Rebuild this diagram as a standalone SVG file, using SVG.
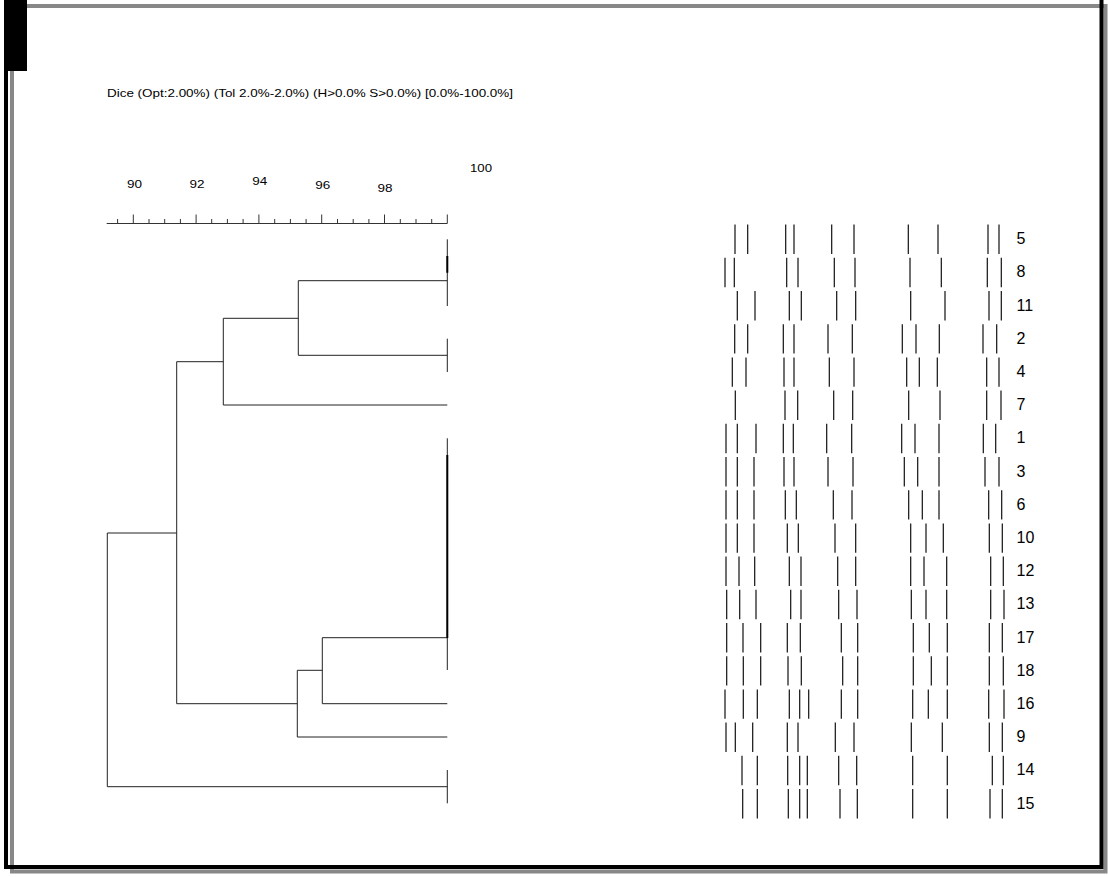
<svg xmlns="http://www.w3.org/2000/svg" width="1108" height="877" viewBox="0 0 1108 877">
<style>
.frame-g{fill:none;stroke:#888;stroke-width:4}
.frame-b{fill:none;stroke:#000;stroke-width:4}
.t{font-family:"Liberation Sans",Arial,sans-serif;fill:#000}
.title{font-size:11.5px}
.scale{font-size:11.5px}
.lbl{font-size:16px}
.axis{fill:none;stroke:#333;stroke-width:1}
.den{fill:none;stroke:#222;stroke-width:1}
.thick{fill:none;stroke:#000;stroke-width:2}
.band{fill:none;stroke:#111;stroke-width:1.2}
</style>
<rect width="1108" height="877" fill="#fff"/>
<g id="frame">
<rect class="frame-g" x="12" y="6" width="1093.5" height="865.5"/>
<path class="frame-b" d="M6 0V867H1101.5V0"/>
<rect x="5" y="0" width="22" height="71" fill="#000"/>
</g>
<text class="t title" x="107" y="97" textLength="406" lengthAdjust="spacingAndGlyphs">Dice (Opt:2.00%) (Tol 2.0%-2.0%) (H&gt;0.0% S&gt;0.0%) [0.0%-100.0%]</text>
<g id="scale">
<path class="axis" d="M106.7 223.5H447.3"/>
<path class="axis" d="M133.3 214.5V223.5M196.1 214.5V223.5M258.9 214.5V223.5M321.7 214.5V223.5M384.5 214.5V223.5M447.3 214.5V223.5"/>
<path class="axis" d="M117.6 219V223.5M149 219V223.5M164.7 219V223.5M180.4 219V223.5M211.7 219V223.5M227.4 219V223.5M243.1 219V223.5M274.7 219V223.5M290.4 219V223.5M306.1 219V223.5M337.5 219V223.5M353.2 219V223.5M368.9 219V223.5M400.3 219V223.5M416 219V223.5M431.7 219V223.5"/>
<text class="t scale" x="127" y="188.3" textLength="15" lengthAdjust="spacingAndGlyphs">90</text>
<text class="t scale" x="189.5" y="187.7" textLength="15" lengthAdjust="spacingAndGlyphs">92</text>
<text class="t scale" x="252.2" y="185" textLength="15" lengthAdjust="spacingAndGlyphs">94</text>
<text class="t scale" x="315.3" y="189" textLength="15" lengthAdjust="spacingAndGlyphs">96</text>
<text class="t scale" x="377.5" y="191.7" textLength="15" lengthAdjust="spacingAndGlyphs">98</text>
<text class="t scale" x="470" y="171.7" textLength="22" lengthAdjust="spacingAndGlyphs">100</text>
</g>
<g id="connectors">
<path class="den" d="M447.3 239.3V306M298.3 280.7H447.3M298.3 280.7V355.3H447.3M447.3 338.7V372M223.3 318.3H298.3M223.3 318.3V405H447.3M176.7 361.7H223.3M176.7 361.7V703.7M107.3 533H176.7M107.3 533V786.7H447.3M447.3 770V803.3M447.3 438.3V670M322.3 637.7H447.3M322.3 637.7V703.7H447.3M297.3 670.3H322.3M297.3 670.3V737H447.3M176.7 703.7H297.3"/>
<path class="thick" d="M447.3 256V272.7M447.3 455V638"/>
</g>
<g id="row-5"><path class="band" d="M735 224.6v29.4M747.7 224.6v29.4M785.7 224.6v29.4M794 224.6v29.4M831.7 224.6v29.4M854 224.6v29.4M908.3 224.6v29.4M938 224.6v29.4M988 224.6v29.4M999 224.6v29.4"/><text class="t lbl" x="1016.5" y="244.1">5</text></g>
<g id="row-8"><path class="band" d="M725 257.8v29.4M734.3 257.8v29.4M786.7 257.8v29.4M798 257.8v29.4M834.3 257.8v29.4M855 257.8v29.4M910 257.8v29.4M941.3 257.8v29.4M987.3 257.8v29.4M1001.3 257.8v29.4"/><text class="t lbl" x="1016.5" y="277.3">8</text></g>
<g id="row-11"><path class="band" d="M737.3 291v29.4M755 291v29.4M789.3 291v29.4M801.3 291v29.4M836.7 291v29.4M855.7 291v29.4M910.7 291v29.4M945 291v29.4M989 291v29.4M1001.3 291v29.4"/><text class="t lbl" x="1016.5" y="310.5">11</text></g>
<g id="row-2"><path class="band" d="M734.7 324.2v29.4M747.7 324.2v29.4M783.3 324.2v29.4M794 324.2v29.4M828 324.2v29.4M852.3 324.2v29.4M902.3 324.2v29.4M916 324.2v29.4M939.3 324.2v29.4M983 324.2v29.4M996.7 324.2v29.4"/><text class="t lbl" x="1016.5" y="343.7">2</text></g>
<g id="row-4"><path class="band" d="M732.3 357.4v29.4M746 357.4v29.4M784 357.4v29.4M794 357.4v29.4M829.3 357.4v29.4M854 357.4v29.4M906.7 357.4v29.4M919.3 357.4v29.4M937.3 357.4v29.4M986.7 357.4v29.4M999 357.4v29.4"/><text class="t lbl" x="1016.5" y="376.9">4</text></g>
<g id="row-7"><path class="band" d="M735.3 390.6v29.4M785 390.6v29.4M797.7 390.6v29.4M833.7 390.6v29.4M852.7 390.6v29.4M908.7 390.6v29.4M940 390.6v29.4M986.7 390.6v29.4M1001 390.6v29.4"/><text class="t lbl" x="1016.5" y="410.1">7</text></g>
<g id="row-1"><path class="band" d="M726 423.8v29.4M737.3 423.8v29.4M756 423.8v29.4M783.3 423.8v29.4M793.3 423.8v29.4M826.7 423.8v29.4M851.7 423.8v29.4M901.7 423.8v29.4M915 423.8v29.4M939 423.8v29.4M983.3 423.8v29.4M995.7 423.8v29.4"/><text class="t lbl" x="1016.5" y="443.3">1</text></g>
<g id="row-3"><path class="band" d="M726 457v29.4M737.3 457v29.4M754 457v29.4M784 457v29.4M794 457v29.4M828 457v29.4M853 457v29.4M904.3 457v29.4M917.7 457v29.4M939 457v29.4M985 457v29.4M999 457v29.4"/><text class="t lbl" x="1016.5" y="476.5">3</text></g>
<g id="row-6"><path class="band" d="M726 490.2v29.4M737.3 490.2v29.4M754 490.2v29.4M785.3 490.2v29.4M796.3 490.2v29.4M833.3 490.2v29.4M852 490.2v29.4M908.7 490.2v29.4M922.3 490.2v29.4M939 490.2v29.4M988.7 490.2v29.4M1001.7 490.2v29.4"/><text class="t lbl" x="1016.5" y="509.7">6</text></g>
<g id="row-10"><path class="band" d="M726 523.4v29.4M737.3 523.4v29.4M754 523.4v29.4M787.3 523.4v29.4M798.3 523.4v29.4M835 523.4v29.4M855.7 523.4v29.4M910.7 523.4v29.4M926 523.4v29.4M943.3 523.4v29.4M989.3 523.4v29.4M1002.3 523.4v29.4"/><text class="t lbl" x="1016.5" y="542.9">10</text></g>
<g id="row-12"><path class="band" d="M726 556.6v29.4M739 556.6v29.4M754.7 556.6v29.4M789.3 556.6v29.4M801 556.6v29.4M837.7 556.6v29.4M855.7 556.6v29.4M910.7 556.6v29.4M924 556.6v29.4M946.7 556.6v29.4M990.7 556.6v29.4M1003.3 556.6v29.4"/><text class="t lbl" x="1016.5" y="576.1">12</text></g>
<g id="row-13"><path class="band" d="M726.7 589.8v29.4M739.7 589.8v29.4M756 589.8v29.4M790.7 589.8v29.4M801 589.8v29.4M838.7 589.8v29.4M857 589.8v29.4M911.3 589.8v29.4M926 589.8v29.4M946.7 589.8v29.4M990.7 589.8v29.4M1004 589.8v29.4"/><text class="t lbl" x="1016.5" y="609.3">13</text></g>
<g id="row-17"><path class="band" d="M726.7 623v29.4M743 623v29.4M760.7 623v29.4M787.3 623v29.4M800.3 623v29.4M841.3 623v29.4M857.7 623v29.4M913.3 623v29.4M929.3 623v29.4M947.3 623v29.4M989.3 623v29.4M1002.3 623v29.4"/><text class="t lbl" x="1016.5" y="642.5">17</text></g>
<g id="row-18"><path class="band" d="M726.7 656.2v29.4M743.3 656.2v29.4M760.7 656.2v29.4M788 656.2v29.4M801.3 656.2v29.4M842.7 656.2v29.4M857.7 656.2v29.4M913.3 656.2v29.4M931.3 656.2v29.4M947.3 656.2v29.4M989.3 656.2v29.4M1003.3 656.2v29.4"/><text class="t lbl" x="1016.5" y="675.7">18</text></g>
<g id="row-16"><path class="band" d="M725 689.4v29.4M743.3 689.4v29.4M757.3 689.4v29.4M789.3 689.4v29.4M799.7 689.4v29.4M808.7 689.4v29.4M841.3 689.4v29.4M857.7 689.4v29.4M912.7 689.4v29.4M928.3 689.4v29.4M947.3 689.4v29.4M988.7 689.4v29.4M1004 689.4v29.4"/><text class="t lbl" x="1016.5" y="708.9">16</text></g>
<g id="row-9"><path class="band" d="M726 722.6v29.4M735.3 722.6v29.4M752.7 722.6v29.4M787.3 722.6v29.4M798 722.6v29.4M835.3 722.6v29.4M854 722.6v29.4M911.3 722.6v29.4M942.3 722.6v29.4M989.3 722.6v29.4M1002.3 722.6v29.4"/><text class="t lbl" x="1016.5" y="742.1">9</text></g>
<g id="row-14"><path class="band" d="M742 755.8v29.4M757.3 755.8v29.4M787.7 755.8v29.4M799.7 755.8v29.4M807.3 755.8v29.4M838.7 755.8v29.4M856.7 755.8v29.4M912.7 755.8v29.4M947.3 755.8v29.4M992.3 755.8v29.4M1003.3 755.8v29.4"/><text class="t lbl" x="1016.5" y="775.3">14</text></g>
<g id="row-15"><path class="band" d="M742.7 789v29.4M757.3 789v29.4M788.3 789v29.4M799.7 789v29.4M807.3 789v29.4M840 789v29.4M857.3 789v29.4M912.7 789v29.4M947.3 789v29.4M990 789v29.4M1002.3 789v29.4"/><text class="t lbl" x="1016.5" y="808.5">15</text></g>
</svg>
